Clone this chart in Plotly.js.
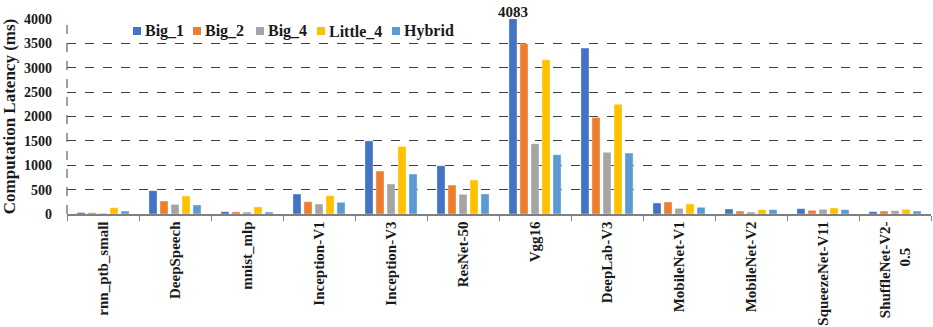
<!DOCTYPE html>
<html>
<head>
<meta charset="utf-8">
<script src="https://cdn.plot.ly/plotly-3.0.1.min.js"></script>
<style>html,body{margin:0;padding:0;background:#fff;}#chart{width:933px;height:327px;}</style>
</head>
<body>
<div id="chart"></div>
<script>
const categories = ["rnn_ptb_small","DeepSpeech","mnist_mlp","Inception-V1","Inception-V3","ResNet-50","Vgg16","DeepLab-V3","MobileNet-V1","MobileNet-V2","SqueezeNet-V11","ShuffleNet-V2-<br>0.5&nbsp;&nbsp;&nbsp;&nbsp;&nbsp;&nbsp;&nbsp;"];
const seriesNames = ["Big_1","Big_2","Big_4","Little_4","Hybrid"];
const big1   = [30, 478, 48, 410, 1500, 990, 4083, 3403, 225, 102, 109, 48];
const big2   = [25, 266, 45, 252, 881, 594, 3490, 1982, 246, 61, 75, 61];
const big4   = [15, 198, 40, 205, 615, 403, 1441, 1265, 116, 41, 96, 68];
const little4= [129, 369, 144, 376, 1387, 697, 3163, 2249, 205, 89, 123, 96];
const hybrid = [60, 185, 40, 239, 820, 410, 1216, 1250, 137, 89, 89, 61];
const colors = ["#4472C4","#ED7D31","#A5A5A5","#FFC000","#5B9BD5"];
const labelledCategory = "Vgg16";
const labelledValue = 4083;

const seriesData = [big1, big2, big4, little4, hybrid];
const fam = "Liberation Serif, Times New Roman, serif";
const ink = "#1a1a1a";

const traces = seriesData.map((vals, i) => ({
  type: "bar",
  name: seriesNames[i],
  x: categories,
  y: vals,
  marker: {color: colors[i], line: {color: "rgba(255,255,255,0.6)", width: 0.6}},
  cliponaxis: true,
  showlegend: false
}));

// compact legend (squares + names), positioned in paper coordinates
const legendX = [133, 193, 256, 317, 392];   // px of each key square's left edge
const legendY = 31;                            // px of key centre
const plotL = 67, plotW = 864, plotT = 19, plotH = 195;
const px2x = p => (p - plotL) / plotW;
const py2y = p => 1 - (p - plotT) / plotH;

const shapes = [{
  type: "line", xref: "paper", yref: "paper", x0: 0, x1: 0, y0: 0, y1: 1,
  line: {color: "#606060", width: 1.2, dash: "dash"}
}];
const annotations = [{
  x: labelledCategory, y: 4000, xref: "x", yref: "y",
  text: String(labelledValue), showarrow: false,
  yanchor: "bottom", xshift: -22, yshift: -3,
  font: {family: fam, size: 15, color: ink, weight: "bold"}
}];
seriesNames.forEach((n, i) => {
  shapes.push({
    type: "rect", xref: "paper", yref: "paper",
    x0: px2x(legendX[i]), x1: px2x(legendX[i] + 8),
    y0: py2y(legendY + 4), y1: py2y(legendY - 4),
    fillcolor: colors[i], line: {width: 0}
  });
  annotations.push({
    x: px2x(legendX[i] + 10), y: py2y(legendY), xref: "paper", yref: "paper",
    xanchor: "left", yanchor: "middle", showarrow: false, text: n,
    font: {family: fam, size: 16, color: ink, weight: "bold"}
  });
});

const layout = {
  width: 933, height: 327,
  margin: {l: 67, r: 2, t: 19, b: 113},
  paper_bgcolor: "#fff", plot_bgcolor: "#fff",
  font: {family: fam, color: ink},
  barmode: "group",
  bargap: 0.235,
  bargroupgap: 0.27,
  showlegend: false,
  xaxis: {
    type: "category",
    tickson: "boundaries",
    ticks: "outside", ticklen: 5, tickcolor: "#808080",
    showline: true, linecolor: "#808080", linewidth: 1.5,
    showgrid: false,
    tickangle: -90,
    tickfont: {family: fam, size: 15, color: ink, weight: "bold"},
    automargin: false
  },
  yaxis: {
    range: [0, 4000], dtick: 500,
    showgrid: true, gridcolor: "#404040", griddash: "dash", gridwidth: 1,
    zeroline: false, showline: false,
    ticks: "", ticklabelstandoff: 14,
    tickfont: {family: fam, size: 14, color: ink, weight: "bold"},
    title: {text: "Computation Latency (ms)", font: {family: fam, size: 17, color: ink, weight: "bold"}, standoff: 5},
    automargin: false
  },
  shapes: shapes,
  annotations: annotations
};

Plotly.newPlot("chart", traces, layout, {displayModeBar: false, staticPlot: true});
</script>
</body>
</html>
